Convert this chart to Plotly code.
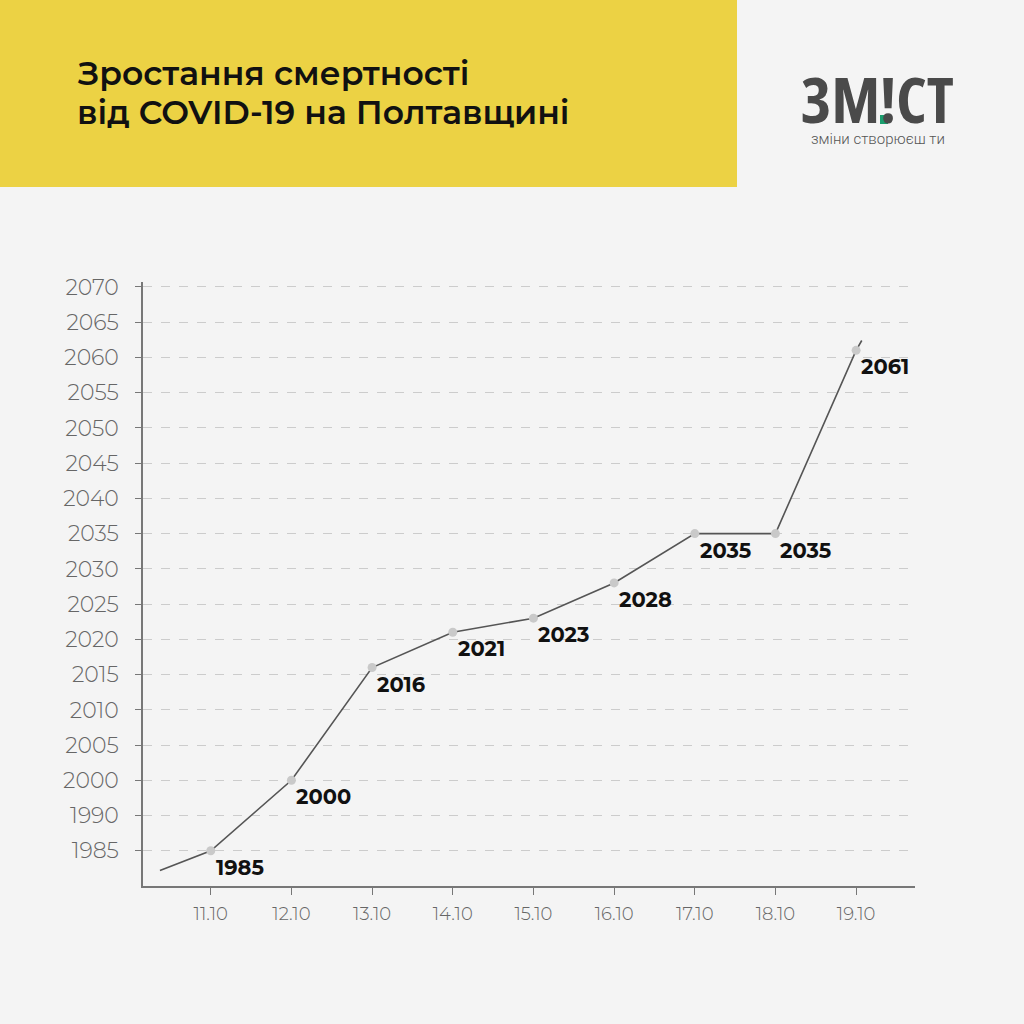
import plotly.graph_objects as go

# data
dates = ["11.10", "12.10", "13.10", "14.10", "15.10", "16.10", "17.10", "18.10", "19.10"]
deaths = [1985, 2000, 2016, 2021, 2023, 2028, 2035, 2035, 2061]
tick_labels = [1985, 1990, 2000, 2005, 2010, 2015, 2020, 2025, 2030,
               2035, 2040, 2045, 2050, 2055, 2060, 2065, 2070]
# the line runs a little past the first and last points
line_start = (-0.63, 1982.2)
line_end = (8.07, 2062.4)


def to_axis(v):
    # the axis is squeezed below 2000 (1990 and 1985 sit one step apart)
    if v >= 2000:
        return v
    if v >= 1990:
        return 1995 + (v - 1990) / 2
    return v + 5


W, H = 1024, 1024
L, R, T, B = 143, 915, 282, 886
FONT = "Montserrat, Inter, sans-serif"


def px(x):
    return (x - L) / (R - L)


def py(y):
    return (B - y) / (B - T)


idx = list(range(len(dates)))
pos = [to_axis(v) for v in deaths]

fig = go.Figure()

fig.add_trace(go.Scatter(
    x=[line_start[0]] + idx + [line_end[0]],
    y=[to_axis(line_start[1])] + pos + [to_axis(line_end[1])],
    mode="lines", line=dict(color="#555555", width=1.6),
    hoverinfo="skip", showlegend=False))

fig.add_trace(go.Scatter(
    x=idx, y=pos, mode="markers",
    marker=dict(color="#c9c9c9", size=9),
    showlegend=False))

for i, (p, v) in enumerate(zip(pos, deaths)):
    fig.add_annotation(x=i, y=p, text=str(v), showarrow=False,
                       xanchor="left", yanchor="top", xshift=3, yshift=-2,
                       font=dict(family=FONT, size=21, color="#111111", weight=700))

# header band
fig.add_shape(type="rect", xref="paper", yref="paper",
              x0=px(0), x1=px(737), y0=py(0), y1=py(187),
              fillcolor="#ecd244", line_width=0, layer="below")

for line, yc in [("Зростання смертності", 73), ("від COVID-19 на Полтавщині", 112)]:
    fig.add_annotation(xref="paper", yref="paper", x=px(75), y=py(yc),
                       xanchor="left", yanchor="middle", showarrow=False,
                       text=line,
                       font=dict(family=FONT, size=33, color="#111111", weight=600))

# logo
fig.add_annotation(xref="paper", yref="paper", x=px(877), y=py(98),
                   xanchor="center", yanchor="middle", showarrow=False,
                   text="<span style='font-stretch:75%'>ЗМ!СТ</span>",
                   font=dict(family="Open Sans", size=63,
                             color="#4a4a4a", weight=700))
fig.add_shape(type="rect", xref="paper", yref="paper",
              x0=px(880), x1=px(888), y0=py(115), y1=py(124),
              fillcolor="#1a9e6e", line_width=0)
fig.add_annotation(xref="paper", yref="paper", x=px(878), y=py(139),
                   xanchor="center", yanchor="middle", showarrow=False,
                   text="зміни створюєш ти",
                   font=dict(family="Roboto, sans-serif", size=15,
                             color="#555555", weight=300))

fig.update_layout(
    width=W, height=H,
    margin=dict(l=L, r=W - R, t=T, b=H - B),
    paper_bgcolor="#f4f4f4", plot_bgcolor="#f4f4f4",
    showlegend=False,
    xaxis=dict(range=[-0.84, 8.73], tickvals=idx, ticktext=dates,
               showgrid=False, zeroline=False,
               showline=True, linecolor="#777777", linewidth=1.5,
               ticks="outside", ticklen=7, tickcolor="#777777",
               ticklabelstandoff=4,
               tickfont=dict(family=FONT, size=18, color="#666666", weight=300)),
    yaxis=dict(range=[1985.0, 2070.7],
               tickvals=[to_axis(t) for t in tick_labels],
               ticktext=[str(t) for t in tick_labels],
               showgrid=True, gridcolor="#cccccc", griddash="dash", gridwidth=1,
               zeroline=False,
               showline=True, linecolor="#777777", linewidth=1.5,
               ticks="outside", ticklen=6, tickcolor="#777777",
               ticklabelstandoff=12,
               tickfont=dict(family=FONT, size=22, color="#666666", weight=300)),
)

fig.write_html("out.html", config={"displayModeBar": False},
               post_script="document.body.style.margin='0';")
